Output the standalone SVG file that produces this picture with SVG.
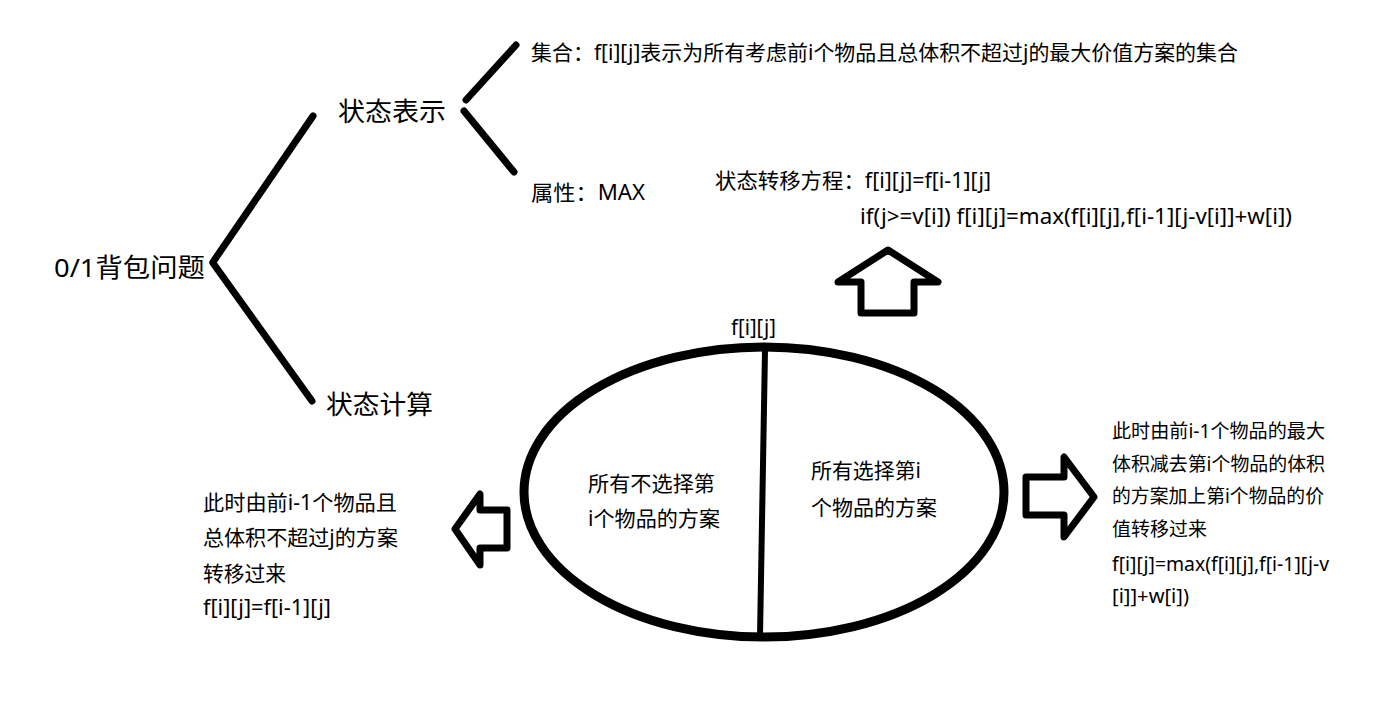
<svg xmlns="http://www.w3.org/2000/svg" width="1385" height="707" viewBox="0 0 1385 707">
<style>
text{font-family:"Noto Sans","Noto Sans CJK SC",sans-serif;fill:#000;}
.big{font-size:26px;}
.sm{font-size:21px;}
.xs{font-size:19px;}
.ln{stroke:#000;stroke-width:7;stroke-linecap:round;fill:none;}
.arw{stroke:#000;stroke-width:7;stroke-linejoin:round;fill:#fff;}
</style>
<rect width="1385" height="707" fill="#fff"/>
<g id="connectors">
<line class="ln" x1="213" y1="262" x2="313" y2="116"/>
<line class="ln" x1="213" y1="263" x2="312" y2="401"/>
<line class="ln" x1="466" y1="100" x2="516" y2="45"/>
<line class="ln" x1="464" y1="111" x2="514" y2="172"/>
<polygon class="arw" points="888,250 938,282 914,282 914,313 861,313 861,282 838,282"/>
<polygon class="arw" points="455,529 480,494 480,510 507,510 507,548 480,548 480,565"/>
<polygon class="arw" points="1094,497 1064,457 1064,477 1026,477 1026,515 1064,515 1064,537"/>
</g>
<g id="root"><text class="big" x="54" y="277" textLength="151" lengthAdjust="spacingAndGlyphs">0/1背包问题</text></g>
<g id="state-repr"><text class="big" x="338" y="121" textLength="108" lengthAdjust="spacingAndGlyphs">状态表示</text></g>
<g id="state-calc"><text class="big" x="326" y="414" textLength="107" lengthAdjust="spacingAndGlyphs">状态计算</text></g>
<g id="set"><text class="sm" x="531" y="60" textLength="707" lengthAdjust="spacingAndGlyphs">集合：f[i][j]表示为所有考虑前i个物品且总体积不超过j的最大价值方案的集合</text></g>
<g id="attr"><text class="sm" x="531" y="200" textLength="114" lengthAdjust="spacingAndGlyphs">属性：MAX</text></g>
<g id="equation">
<text class="sm" x="715" y="188" textLength="276" lengthAdjust="spacingAndGlyphs">状态转移方程：f[i][j]=f[i-1][j]</text>
<text class="sm" x="860" y="224" textLength="432" lengthAdjust="spacingAndGlyphs">if(j&gt;=v[i]) f[i][j]=max(f[i][j],f[i-1][j-v[i]]+w[i])</text>
</g>
<g id="fij-set">
<text class="sm" x="731" y="335" textLength="45" lengthAdjust="spacingAndGlyphs">f[i][j]</text>
<ellipse cx="764" cy="492" rx="240" ry="145" fill="none" stroke="#000" stroke-width="9"/>
<line x1="765" y1="350" x2="760" y2="636" stroke="#000" stroke-width="6"/>
<text class="sm" x="588" y="491" textLength="127" lengthAdjust="spacingAndGlyphs">所有不选择第</text>
<text class="sm" x="588" y="526" textLength="132" lengthAdjust="spacingAndGlyphs">i个物品的方案</text>
<text class="sm" x="811" y="478" textLength="110" lengthAdjust="spacingAndGlyphs">所有选择第i</text>
<text class="sm" x="811" y="515" textLength="126" lengthAdjust="spacingAndGlyphs">个物品的方案</text>
</g>
<g id="left-note">
<text class="sm" x="203" y="510" textLength="194" lengthAdjust="spacingAndGlyphs">此时由前i-1个物品且</text>
<text class="sm" x="203" y="545" textLength="195" lengthAdjust="spacingAndGlyphs">总体积不超过j的方案</text>
<text class="sm" x="203" y="581" textLength="83" lengthAdjust="spacingAndGlyphs">转移过来</text>
<text class="sm" x="203" y="615" textLength="128" lengthAdjust="spacingAndGlyphs">f[i][j]=f[i-1][j]</text>
</g>
<g id="right-note">
<text class="xs" x="1112" y="438" textLength="213" lengthAdjust="spacingAndGlyphs">此时由前i-1个物品的最大</text>
<text class="xs" x="1112" y="471" textLength="213" lengthAdjust="spacingAndGlyphs">体积减去第i个物品的体积</text>
<text class="xs" x="1112" y="503" textLength="212" lengthAdjust="spacingAndGlyphs">的方案加上第i个物品的价</text>
<text class="xs" x="1112" y="536" textLength="95" lengthAdjust="spacingAndGlyphs">值转移过来</text>
<text class="xs" x="1112" y="571" textLength="217" lengthAdjust="spacingAndGlyphs">f[i][j]=max(f[i][j],f[i-1][j-v</text>
<text class="xs" x="1112" y="603" textLength="77" lengthAdjust="spacingAndGlyphs">[i]]+w[i])</text>
</g>
</svg>
